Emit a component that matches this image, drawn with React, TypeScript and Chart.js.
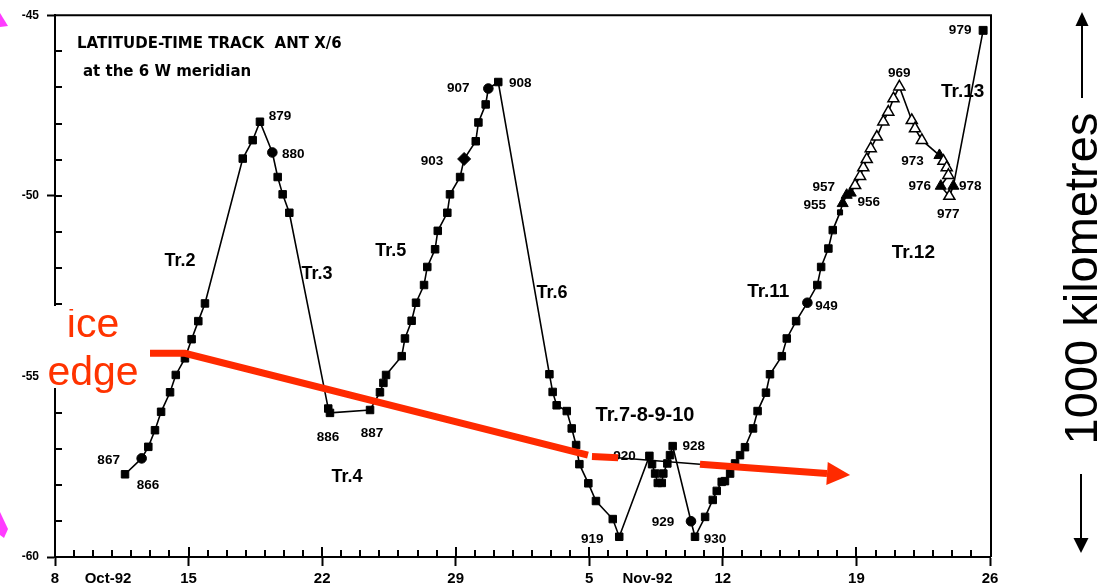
import React, { useEffect, useRef } from 'react';
import { Chart, registerables } from 'chart.js';

Chart.register(...registerables);

// ---------------- DATA ----------------
// x: day counted from 0 October 1992 (Oct 8 = 8, Nov 5 = 36, Nov 26 = 57); y: latitude (deg)
const TRACK_DAYS = [
  11.67, 12.54, 12.89, 13.24, 13.56, 14.03, 14.33, 14.81, 15.16, 15.51,
  15.86, 17.84, 18.36, 18.74, 19.39, 19.67, 19.93, 20.28, 22.32, 22.41,
  24.51, 25.03, 25.21, 25.35, 26.17, 26.34, 26.69, 26.92, 27.34, 27.51,
  27.92, 28.06, 28.56, 28.70, 29.23, 29.44, 30.05, 30.19, 30.57, 30.71,
  31.23, 33.91, 34.08, 34.29, 34.82, 35.08, 35.31, 35.48, 35.95, 36.35,
  37.23, 37.57, 39.15, 39.29, 39.45, 39.59, 39.80, 39.88, 40.09, 40.23,
  40.37, 41.33, 41.54, 42.07, 42.47, 42.68, 42.94, 43.11, 43.38, 43.64,
  43.90, 44.16, 44.58, 44.82, 45.26, 45.47, 46.09, 46.35, 46.84, 47.43,
  47.95, 48.15, 48.53, 48.76, 49.14, 49.28, 49.49, 49.70, 49.93, 50.19,
  50.36, 50.54, 50.75, 51.07, 51.41, 51.67, 51.94, 52.25, 52.90, 53.07,
  53.43, 54.35, 54.56, 54.73, 54.82, 54.42, 54.87, 55.08, 56.64,
];
const TRACK_LATS = [
  -57.71, -57.27, -56.95, -56.49, -55.98, -55.44, -54.96, -54.50, -53.97, -53.47,
  -52.98, -48.97, -48.46, -47.95, -48.80, -49.48, -49.96, -50.47, -55.89, -56.01,
  -55.93, -55.44, -55.18, -54.96, -54.44, -53.95, -53.46, -52.96, -52.47, -51.97,
  -51.48, -50.97, -50.47, -49.96, -49.48, -48.98, -48.49, -47.97, -47.47, -47.03,
  -46.85, -54.94, -55.43, -55.80, -55.96, -56.44, -56.90, -57.43, -57.96, -58.45,
  -58.95, -59.44, -57.20, -57.43, -57.69, -57.95, -57.95, -57.69, -57.41, -57.18,
  -56.93, -59.01, -59.44, -58.89, -58.42, -58.17, -57.92, -57.90, -57.69, -57.41,
  -57.18, -56.96, -56.44, -55.96, -55.45, -54.94, -54.44, -53.95, -53.47, -52.96,
  -52.47, -51.97, -51.46, -50.95, -50.46, -50.21, -49.98, -49.92, -49.71, -49.46,
  -49.22, -48.99, -48.69, -48.37, -47.95, -47.68, -47.31, -46.98, -47.91, -48.14,
  -48.46, -48.88, -49.04, -49.22, -49.43, -49.73, -50.01, -49.73, -45.42,
];

// station categories (indices into the track arrays)
const CIRCLE_STATIONS = [1, 14, 39, 61, 79];
const DIAMOND_STATIONS = [35];
const SMALL_SQUARE_STATIONS = [84];
const FILLED_TRIANGLE_STATIONS = [85, 86, 87, 101, 105, 107];
const OPEN_TRIANGLE_STATIONS = [88, 89, 90, 91, 92, 93, 94, 95, 96, 97, 98, 99, 100, 102, 103, 104, 106];

const STATION_LABELS = ['866', '867', '879', '880', '886', '887', '903', '907', '908', '919', '920', '928',
  '929', '930', '949', '955', '957', '956', '969', '973', '976', '977', '978', '979'];
const STATION_LABEL_INDEX = [0, 1, 13, 14, 19, 20, 35, 39, 40, 51, 52, 60,
  61, 62, 79, 85, 86, 87, 97, 101, 105, 106, 107, 108];

const TRACK_NAMES = ['Tr.2', 'Tr.3', 'Tr.4', 'Tr.5', 'Tr.6', 'Tr.7-8-9-10', 'Tr.11', 'Tr.12', 'Tr.13'];
const TRACK_NAME_DAYS = [14.55, 21.73, 23.30, 25.59, 34.05, 38.92, 45.38, 52.98, 55.57];
const TRACK_NAME_LATS = [-51.81, -52.17, -57.79, -51.52, -52.70, -56.07, -52.66, -51.58, -47.12];

const ICE_EDGE_DAYS = [12.98, 14.81, 35.93, null, 36.14, 37.51, null, 41.80, 48.46];
const ICE_EDGE_LATS = [-54.36, -54.36, -57.18, null, -57.22, -57.25, null, -57.43, -57.69];
const ICE_ARROW_TIP_DAY = 49.67;
const ICE_ARROW_TIP_LAT = -57.73;
const OLD_ICE_DAYS = [37.51, 41.80];
const OLD_ICE_LATS = [-57.25, -57.43];

const X_MIN = 8;
const X_MAX = 57;
const X_MAJOR_DAYS = [8, 15, 22, 29, 36, 43, 50, 57];
const X_MAJOR_LABELS = ['8', '15', '22', '29', '5', '12', '19', '26'];
const MONTH_LABEL_DAYS = [10.78, 39.05];
const MONTH_LABELS = ['Oct-92', 'Nov-92'];
const Y_MIN = -60;
const Y_MAX = -45;
const Y_MAJOR = [-45, -50, -55, -60];

const TITLE = 'LATITUDE-TIME TRACK  ANT X/6';
const SUBTITLE = 'at the 6 W meridian';

// ---------------- STYLE ----------------
const RED = '#ff2a00';
const RED_TEXT = '#ff3300';
const LABEL_OFFSETS: [number, number][] = [
  [23, 11], [-33, 2], [20, -5], [21, 2], [-2, 24], [2, 23], [-32, 2], [-30, 0], [22, 1], [-27, 3], [-25, 0], [21, 0],
  [-28, 1], [20, 3], [19, 4], [-28, 2], [-23, -8], [18, 9], [0, -13], [-27, 6], [-21, 0], [-1, 18], [17, 0], [-23, 0],
];
const TRACK_NAME_SIZES = [18, 18, 18, 18, 18, 20, 19, 19, 19];

function kindOf(i: number): string {
  if (CIRCLE_STATIONS.includes(i)) return 'circle';
  if (DIAMOND_STATIONS.includes(i)) return 'diamond';
  if (SMALL_SQUARE_STATIONS.includes(i)) return 'small';
  if (FILLED_TRIANGLE_STATIONS.includes(i)) return 'tri';
  if (OPEN_TRIANGLE_STATIONS.includes(i)) return 'opentri';
  return 'square';
}

const decorPlugin = {
  id: 'decor',
  beforeDatasetsDraw(chart: any) {
    const ctx = chart.ctx;
    const xs = chart.scales.x;
    const ys = chart.scales.y;
    ctx.save();
    ctx.fillStyle = '#000';
    ctx.textBaseline = 'middle';
    ctx.textAlign = 'left';
    ctx.font = 'bold 15px "DejaVu Sans", sans-serif';
    ctx.fillText(TITLE, 77, 44);
    ctx.fillText(SUBTITLE, 83, 72);

    ctx.textAlign = 'center';
    TRACK_NAMES.forEach((n, i) => {
      ctx.font = `bold ${TRACK_NAME_SIZES[i]}px "Liberation Sans", Arial, sans-serif`;
      ctx.fillText(n, xs.getPixelForValue(TRACK_NAME_DAYS[i]), ys.getPixelForValue(TRACK_NAME_LATS[i]));
    });

    const meta = chart.getDatasetMeta(1);
    ctx.font = 'bold 13.5px "Liberation Sans", Arial, sans-serif';
    STATION_LABELS.forEach((t, i) => {
      const p = meta.data[STATION_LABEL_INDEX[i]];
      if (!p) return;
      const [dx, dy] = LABEL_OFFSETS[i];
      ctx.fillText(t, p.x + dx, p.y + dy);
    });
    ctx.restore();
  },
  afterDatasetsDraw(chart: any) {
    const ctx = chart.ctx;
    const xs = chart.scales.x;
    const ys = chart.scales.y;
    const area = chart.chartArea;
    ctx.save();
    // ice-edge arrow head
    let lastIdx = ICE_EDGE_DAYS.length - 1;
    while (lastIdx > 0 && ICE_EDGE_DAYS[lastIdx] === null) lastIdx--;
    const bx = xs.getPixelForValue(ICE_EDGE_DAYS[lastIdx]);
    const by = ys.getPixelForValue(ICE_EDGE_LATS[lastIdx]);
    const tx = xs.getPixelForValue(ICE_ARROW_TIP_DAY);
    const ty = ys.getPixelForValue(ICE_ARROW_TIP_LAT);
    const ang = Math.atan2(ty - by, tx - bx);
    const half = 11.5;
    ctx.fillStyle = RED;
    ctx.beginPath();
    ctx.moveTo(tx, ty);
    ctx.lineTo(bx - Math.sin(ang) * half, by + Math.cos(ang) * half);
    ctx.lineTo(bx + Math.sin(ang) * half, by - Math.cos(ang) * half);
    ctx.closePath();
    ctx.fill();

    // inward minor ticks
    ctx.strokeStyle = '#000';
    ctx.lineWidth = 2;
    ctx.beginPath();
    for (let d = X_MIN + 1; d < X_MAX; d++) {
      const px = Math.round(xs.getPixelForValue(d));
      const len = X_MAJOR_DAYS.includes(d) ? 10 : 7;
      ctx.moveTo(px, area.bottom);
      ctx.lineTo(px, area.bottom - len);
    }
    for (let v = Y_MIN + 1; v < Y_MAX; v++) {
      const py = Math.round(ys.getPixelForValue(v));
      ctx.moveTo(area.left, py);
      ctx.lineTo(area.left + 7, py);
    }
    ctx.stroke();

    // frame top and right
    ctx.beginPath();
    ctx.moveTo(area.left, area.top);
    ctx.lineTo(area.right + 2, area.top);
    ctx.moveTo(area.right + 1, area.top);
    ctx.lineTo(area.right + 1, area.bottom);
    ctx.stroke();
    ctx.restore();
  },
  afterDraw(chart: any) {
    const ctx = chart.ctx;
    ctx.save();
    // white patch with "ice edge"
    ctx.fillStyle = '#fff';
    ctx.fillRect(41, 306, 106, 82);
    ctx.save();
    ctx.beginPath();
    ctx.rect(41, 309, 106, 100);
    ctx.clip();
    ctx.fillStyle = RED_TEXT;
    ctx.font = '41px "Liberation Sans", Arial, sans-serif';
    ctx.textAlign = 'center';
    ctx.textBaseline = 'alphabetic';
    ctx.fillText('ice', 93, 337);
    ctx.fillText('edge', 93, 385);
    ctx.restore();

    // 1000 kilometres scale
    ctx.fillStyle = '#000';
    ctx.save();
    ctx.translate(1097, 278.5);
    ctx.rotate(-Math.PI / 2);
    ctx.font = '47px "Liberation Sans", Arial, sans-serif';
    ctx.textAlign = 'center';
    ctx.textBaseline = 'alphabetic';
    ctx.fillText('1000 kilometres', 0, 0);
    ctx.restore();

    ctx.strokeStyle = '#000';
    ctx.lineWidth = 2;
    ctx.beginPath();
    ctx.moveTo(1082, 98);
    ctx.lineTo(1082, 25);
    ctx.moveTo(1081, 474);
    ctx.lineTo(1081, 540);
    ctx.stroke();
    ctx.beginPath();
    ctx.moveTo(1082, 12);
    ctx.lineTo(1075.5, 26);
    ctx.lineTo(1088.5, 26);
    ctx.closePath();
    ctx.fill();
    ctx.beginPath();
    ctx.moveTo(1081, 553);
    ctx.lineTo(1073.5, 538);
    ctx.lineTo(1088.5, 538);
    ctx.closePath();
    ctx.fill();

    // magenta fragments at left edge
    ctx.fillStyle = '#ff3cff';
    ctx.beginPath();
    ctx.moveTo(0, 13);
    ctx.lineTo(8, 26);
    ctx.lineTo(0, 27);
    ctx.closePath();
    ctx.fill();
    ctx.beginPath();
    ctx.moveTo(0, 512);
    ctx.lineTo(8, 529);
    ctx.lineTo(4, 538);
    ctx.lineTo(0, 535);
    ctx.closePath();
    ctx.fill();
    ctx.restore();
  },
};

const App = () => {
  const ref = useRef<HTMLCanvasElement>(null);
  useEffect(() => {
    const canvas = ref.current;
    if (!canvas) return;
    const kinds = TRACK_DAYS.map((_, i) => kindOf(i));
    const styles = kinds.map((k) =>
      k === 'circle' ? 'circle' : k === 'diamond' ? 'rectRot' : k === 'tri' || k === 'opentri' ? 'triangle' : 'rect');
    const radii = kinds.map((k, i) =>
      k === 'circle' ? 4.8 : k === 'diamond' ? 6.5 : k === 'small' ? 3.6 : k === 'tri' || k === 'opentri' ? 6.4 : i === TRACK_DAYS.length - 1 ? 5.6 : 5.3);
    const fills = kinds.map((k) => (k === 'opentri' ? '#fff' : '#000'));
    const borderWidths = kinds.map((k) => (k === 'opentri' ? 1.5 : 1));

    const fontFam = '"Liberation Sans", Arial, sans-serif';
    const chart = new Chart(canvas, {
      type: 'scatter',
      data: {
        datasets: [
          {
            label: 'ice edge',
            data: ICE_EDGE_DAYS.map((d, i) => ({ x: d as any, y: ICE_EDGE_LATS[i] as any })),
            showLine: true,
            spanGaps: false,
            borderColor: RED,
            borderWidth: 7,
            borderCapStyle: 'butt',
            pointRadius: 0,
            order: 0,
          } as any,
          {
            label: 'track',
            data: TRACK_DAYS.map((d, i) => ({ x: d, y: TRACK_LATS[i] })),
            showLine: true,
            borderColor: '#000',
            borderWidth: 1.6,
            pointStyle: styles as any,
            pointRadius: radii,
            pointBackgroundColor: fills,
            pointBorderColor: '#000',
            pointBorderWidth: borderWidths,
            order: 1,
          } as any,
          {
            label: 'old ice edge',
            data: OLD_ICE_DAYS.map((d, i) => ({ x: d, y: OLD_ICE_LATS[i] })),
            showLine: true,
            borderColor: '#000',
            borderWidth: 1.5,
            pointRadius: 0,
            order: 2,
          } as any,
        ],
      },
      options: {
        responsive: false,
        animation: false,
        devicePixelRatio: 1,
        events: [],
        layout: { padding: { left: 0, top: 15, right: 111, bottom: 0 } },
        plugins: { legend: { display: false }, tooltip: { enabled: false }, title: { display: false } },
        scales: {
          x: {
            type: 'linear',
            min: X_MIN,
            max: X_MAX,
            afterBuildTicks: (s: any) => {
              const t: { value: number }[] = [];
              for (let d = X_MIN; d <= X_MAX; d++) t.push({ value: d });
              MONTH_LABEL_DAYS.forEach((v) => t.push({ value: v }));
              t.sort((a, b) => a.value - b.value);
              s.ticks = t;
            },
            afterFit: (s: any) => {
              s.height = 31;
            },
            ticks: {
              autoSkip: false,
              maxRotation: 0,
              minRotation: 0,
              padding: 4,
              color: '#000',
              font: { family: fontFam, size: 15, weight: 'bold' },
              callback: (v: any) => {
                const mi = MONTH_LABEL_DAYS.findIndex((m) => Math.abs(m - v) < 1e-6);
                if (mi >= 0) return MONTH_LABELS[mi];
                const wi = X_MAJOR_DAYS.indexOf(v);
                return wi >= 0 ? X_MAJOR_LABELS[wi] : '';
              },
            },
            grid: {
              drawOnChartArea: false,
              drawTicks: true,
              tickLength: 9,
              tickWidth: 2,
              tickColor: (c: any) => (c.tick && X_MAJOR_DAYS.includes(c.tick.value) ? '#000' : 'rgba(0,0,0,0)'),
            },
            border: { display: true, color: '#000', width: 2 },
          },
          y: {
            type: 'linear',
            min: Y_MIN,
            max: Y_MAX,
            afterBuildTicks: (s: any) => {
              const t: { value: number }[] = [];
              for (let v = Y_MIN; v <= Y_MAX; v++) t.push({ value: v });
              s.ticks = t;
            },
            afterFit: (s: any) => {
              s.width = 55;
            },
            ticks: {
              autoSkip: false,
              padding: 8,
              color: '#000',
              font: { family: fontFam, size: 12, weight: 'bold' },
              callback: (v: any) => (Y_MAJOR.includes(v) ? String(v) : ''),
            },
            grid: {
              drawOnChartArea: false,
              drawTicks: true,
              tickLength: 8,
              tickWidth: 2,
              tickColor: (c: any) => (c.tick && Y_MAJOR.includes(c.tick.value) ? '#000' : 'rgba(0,0,0,0)'),
            },
            border: { display: true, color: '#000', width: 2 },
          },
        },
      } as any,
      plugins: [decorPlugin],
    });
    return () => chart.destroy();
  }, []);

  return (
    <div style={{ position: 'absolute', left: 0, top: 0, width: 1101, height: 588, background: '#fff' }}>
      <canvas ref={ref} width={1101} height={588} style={{ width: 1101, height: 588, display: 'block' }} />
    </div>
  );
};

export default App;
